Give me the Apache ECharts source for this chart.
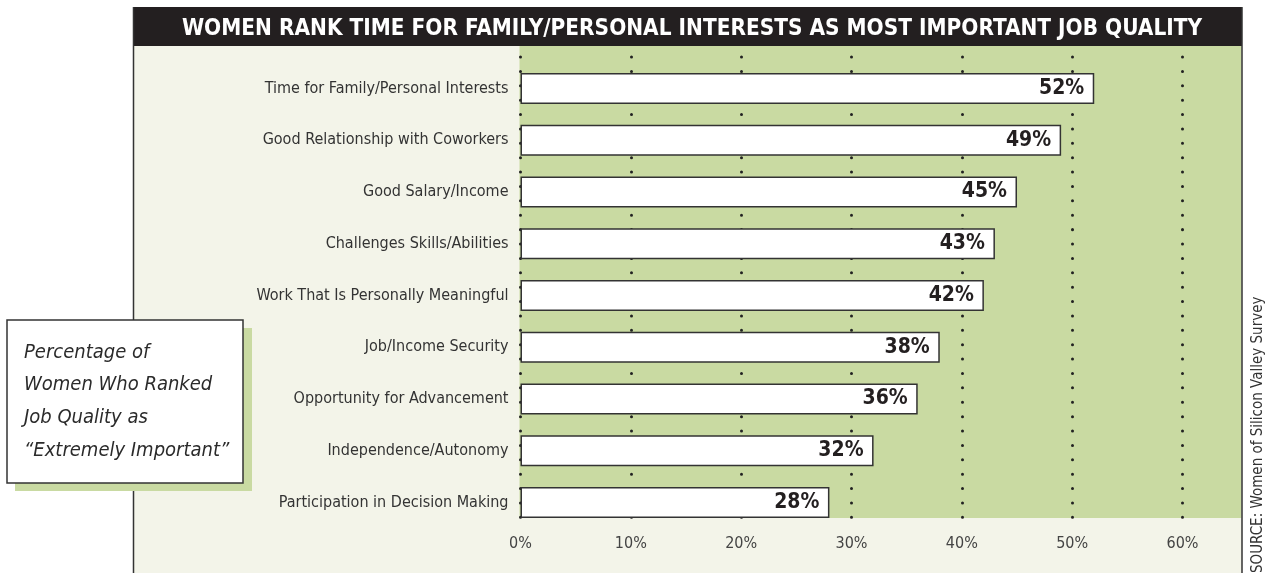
<!DOCTYPE html>
<html>
<head>
<meta charset="utf-8">
<script src="https://cdn.jsdelivr.net/npm/echarts@6/dist/echarts.min.js"></script>
<style>
  html, body { margin: 0; padding: 0; background: #fff; }
  #chart { width: 1267px; height: 573px; }
</style>
</head>
<body>
<div id="chart"></div>
<script>
const titleText = "WOMEN RANK TIME FOR FAMILY/PERSONAL INTERESTS AS MOST IMPORTANT JOB QUALITY";
const categories = [
  "Time for Family/Personal Interests",
  "Good Relationship with Coworkers",
  "Good Salary/Income",
  "Challenges Skills/Abilities",
  "Work That Is Personally Meaningful",
  "Job/Income Security",
  "Opportunity for Advancement",
  "Independence/Autonomy",
  "Participation in Decision Making",
];
const values = [52, 49, 45, 43, 42, 38, 36, 32, 28];
const tickValues = [0, 10, 20, 30, 40, 50, 60];
const noteLines = ["Percentage of", "Women Who Ranked", "Job Quality as", "\u201cExtremely Important\u201d"];
const sourceText = "SOURCE: Women of Silicon Valley Survey";

const COND = "'Liberation Sans Narrow', 'DejaVu Sans Condensed', Roboto, sans-serif";
const GREEN = "#c9daa2";
const BEIGE = "#f3f4e9";
const INK = "#231f20";

const chart = echarts.init(document.getElementById("chart"));

chart.setOption({
  backgroundColor: "#fff",
  animation: false,
  title: {
    text: titleText,
    left: 687,
    textAlign: "center",
    top: 13,
    textStyle: {
      color: "#fff",
      fontFamily: COND,
      fontWeight: "bold",
      fontSize: 22.4,
    },
  },
  graphic: [
    // chart panel background
    { type: "rect", z: -10, shape: { x: 133, y: 7, width: 1109, height: 580 }, style: { fill: BEIGE } },
    // green plot zone
    { type: "rect", z: -9, shape: { x: 519.5, y: 46, width: 722, height: 472 }, style: { fill: GREEN } },
    // title bar
    { type: "rect", z: -8, shape: { x: 133, y: 7, width: 1109, height: 39 }, style: { fill: INK } },
    // side borders
    { type: "line", z: 5, shape: { x1: 133.5, y1: 7, x2: 133.5, y2: 573 }, style: { stroke: "#333", lineWidth: 1.5 } },
    { type: "line", z: 5, shape: { x1: 1242, y1: 7, x2: 1242, y2: 573 }, style: { stroke: "#333", lineWidth: 1.5 } },
    // note box with green shadow
    { type: "rect", z: 10, shape: { x: 15, y: 328, width: 237, height: 163 }, style: { fill: GREEN } },
    { type: "rect", z: 11, shape: { x: 7, y: 320, width: 236, height: 163 }, style: { fill: "#fff", stroke: "#333", lineWidth: 1.5 } },
    {
      type: "text", z: 12, left: 24, top: 336,
      style: {
        text: noteLines.join("\n"),
        font: "italic 20px " + COND,
        fill: "#2b2b2b",
        lineHeight: 32.7,
      },
    },
    // source, rotated
    {
      type: "text", z: 12, x: 1258, y: 573, rotation: Math.PI / 2,
      style: {
        text: sourceText,
        font: "15px " + COND,
        fill: "#333",
        textAlign: "left",
        textVerticalAlign: "middle",
      },
    },
  ],
  grid: [
    // dotted guides
    { left: 520.5, width: 662, top: 57, height: 461 },
    // bars
    { left: 520.5, width: 662, top: 62.6, height: 465.8 },
  ],
  xAxis: [
    {
      gridIndex: 0,
      type: "value",
      min: 0,
      max: 60,
      interval: 10,
      axisLine: { show: false },
      axisTick: { show: false },
      axisLabel: { show: false },
      splitLine: {
        show: true,
        lineStyle: { color: "#222", width: 3, type: [0.01, 14.375], cap: "round" },
      },
    },
    {
      gridIndex: 1,
      type: "value",
      min: 0,
      max: 60,
      interval: 10,
      axisLine: { show: false },
      axisTick: { show: false },
      splitLine: { show: false },
      axisLabel: {
        margin: 7,
        color: "#444",
        fontFamily: COND,
        fontSize: 16,
        formatter: (v) => (tickValues.indexOf(v) >= 0 ? v + "%" : ""),
      },
    },
  ],
  yAxis: [
    {
      gridIndex: 0,
      type: "value",
      show: false,
    },
    {
      gridIndex: 1,
      type: "category",
      inverse: true,
      data: categories,
      axisLine: { show: false },
      axisTick: { show: false },
      axisLabel: {
        margin: 12,
        color: "#333",
        fontFamily: COND,
        fontSize: 16,
      },
    },
  ],
  series: [
    {
      type: "bar",
      xAxisIndex: 1,
      yAxisIndex: 1,
      data: values,
      barCategoryGap: "40%",
      itemStyle: { color: "#fff", borderColor: "#333", borderWidth: 1.5 },
      label: {
        show: true,
        position: "insideRight",
        distance: 10,
        color: INK,
        fontFamily: COND,
        fontWeight: "bold",
        fontSize: 21,
        formatter: "{c}%",
      },
    },
  ],
});
</script>
</body>
</html>
